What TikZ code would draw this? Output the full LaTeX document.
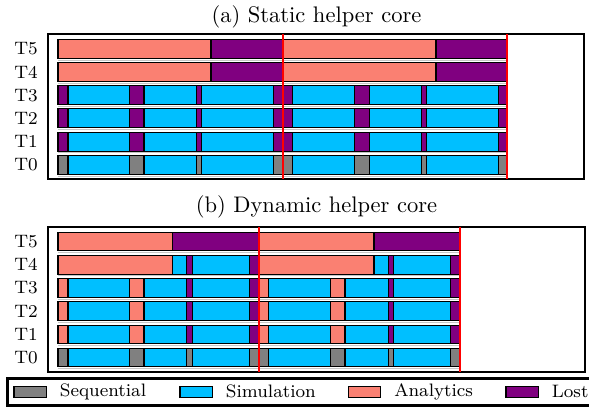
\documentclass[tikz,border=0pt]{standalone}
\usetikzlibrary{positioning}
\definecolor{seqcol}{HTML}{808080}
\definecolor{simcol}{HTML}{00BFFF}
\definecolor{anacol}{HTML}{FA8072}
\definecolor{lostcol}{HTML}{800080}

\begin{document}
\begin{tikzpicture}[x=0.444pt,y=-0.444pt,
	seg/.style={draw=black,line width=0.45pt},
	frame/.style={draw=black,line width=0.95pt},
	sync/.style={draw=red,line width=0.9pt},
	gapline/.style={draw=gray!45,line width=0.4pt},
	tlabel/.style={font=\footnotesize,inner sep=0pt},
	legtext/.style={font=\footnotesize,anchor=west,inner sep=0pt}]
\useasboundingbox (0,0) rectangle (589,408);

% (a) static helper core
\node (titlea) at (316.5,17) {(a) Static helper core};
\foreach \y in {39.3,62.5}
	\foreach \a/\b/\c in {58/211/anacol,211/283/lostcol,283/436/anacol,436/507/lostcol}
		\draw[seg,fill=\c] (\a,\y) rectangle (\b,{\y+19});
\foreach \y/\g in {85.7/lostcol,108.9/lostcol,132.1/lostcol,155.3/seqcol}
	\foreach \a/\b/\c in {58/68/\g,68/129.3/simcol,129.3/144/\g,144/196.7/simcol,
			196.7/201.7/\g,201.7/273.3/simcol,273.3/292.7/\g,292.7/354.3/simcol,
			354.3/369.3/\g,369.3/421.7/simcol,421.7/426.7/\g,426.7/498.3/simcol,498.3/507/\g}
		\draw[seg,fill=\c] (\a,\y) rectangle (\b,{\y+19});
\foreach \y in {39.3,62.5,85.7,108.9,132.1,155.3}
	\draw[gapline] (58,{\y+20.8}) -- (507,{\y+20.8});
\foreach \y/\t in {39.3/5,62.5/4,85.7/3,108.9/2,132.1/1,155.3/0}
	\node[tlabel] (aT\t) at (26,{\y+9.5}) {T\t};
\draw[frame] (48,34) rectangle (584,179);
\foreach \x in {283,507}
	\draw[sync] (\x,34) -- (\x,179);

% (b) dynamic helper core
\node (titleb) at (316.5,207) {(b) Dynamic helper core};
\foreach \a/\b/\c in {58/172.7/anacol,172.7/259/lostcol,259/374/anacol,374/460/lostcol}
	\draw[seg,fill=\c] (\a,232.3) rectangle (\b,250.8);
\foreach \a/\b/\c in {58/172.7/anacol,172.7/186.7/simcol,186.7/192.3/lostcol,192.3/249.3/simcol,
		249.3/259/lostcol,259/374/anacol,374/388.3/simcol,388.3/393.3/lostcol,
		393.3/450.7/simcol,450.7/460/lostcol}
	\draw[seg,fill=\c] (\a,255.5) rectangle (\b,274);
\foreach \y in {278.7,301.9,325.1}
	\foreach \a/\b/\c in {58/68/anacol,68/129.3/simcol,129.3/144/anacol,144/186.7/simcol,
			186.7/192.3/lostcol,192.3/249.3/simcol,249.3/259/lostcol,259/268.7/anacol,
			268.7/330.7/simcol,330.7/345/anacol,345/388.3/simcol,388.3/393.3/lostcol,
			393.3/450.7/simcol,450.7/460/lostcol}
		\draw[seg,fill=\c] (\a,\y) rectangle (\b,{\y+18.5});
\foreach \a/\b/\c in {58/68/seqcol,68/129.3/simcol,129.3/144/seqcol,144/186.7/simcol,
		186.7/192.3/seqcol,192.3/249.3/simcol,249.3/268.7/seqcol,268.7/330.7/simcol,
		330.7/345/seqcol,345/388.3/simcol,388.3/393.3/seqcol,393.3/450.7/simcol,450.7/460/seqcol}
	\draw[seg,fill=\c] (\a,348.3) rectangle (\b,366.8);
\foreach \y in {232.3,255.5,278.7,301.9,325.1,348.3}
	\draw[gapline] (58,{\y+20.3}) -- (460,{\y+20.3});
\foreach \y/\t in {232.3/5,255.5/4,278.7/3,301.9/2,325.1/1,348.3/0}
	\node[tlabel] (bT\t) at (26,{\y+9.3}) {T\t};
\draw[frame] (48,227.3) rectangle (585,371.7);
\foreach \x in {259,460}
	\draw[sync] (\x,227.3) -- (\x,371.7);

% legend
\draw[frame] (589,378.5) -- (7.5,378.5) -- (7.5,405.5) -- (589,405.5);
\foreach \x/\c/\t in {14/seqcol/Sequential,180/simcol/Simulation,348.3/anacol/Analytics,506/lostcol/Lost}
{
	\draw[seg,fill=\c] (\x,386) rectangle ({\x+32.3},397.3);
	\node[legtext] (\t) at ({\x+45.5},391.7) {\t};
}
\end{tikzpicture}
\end{document}
